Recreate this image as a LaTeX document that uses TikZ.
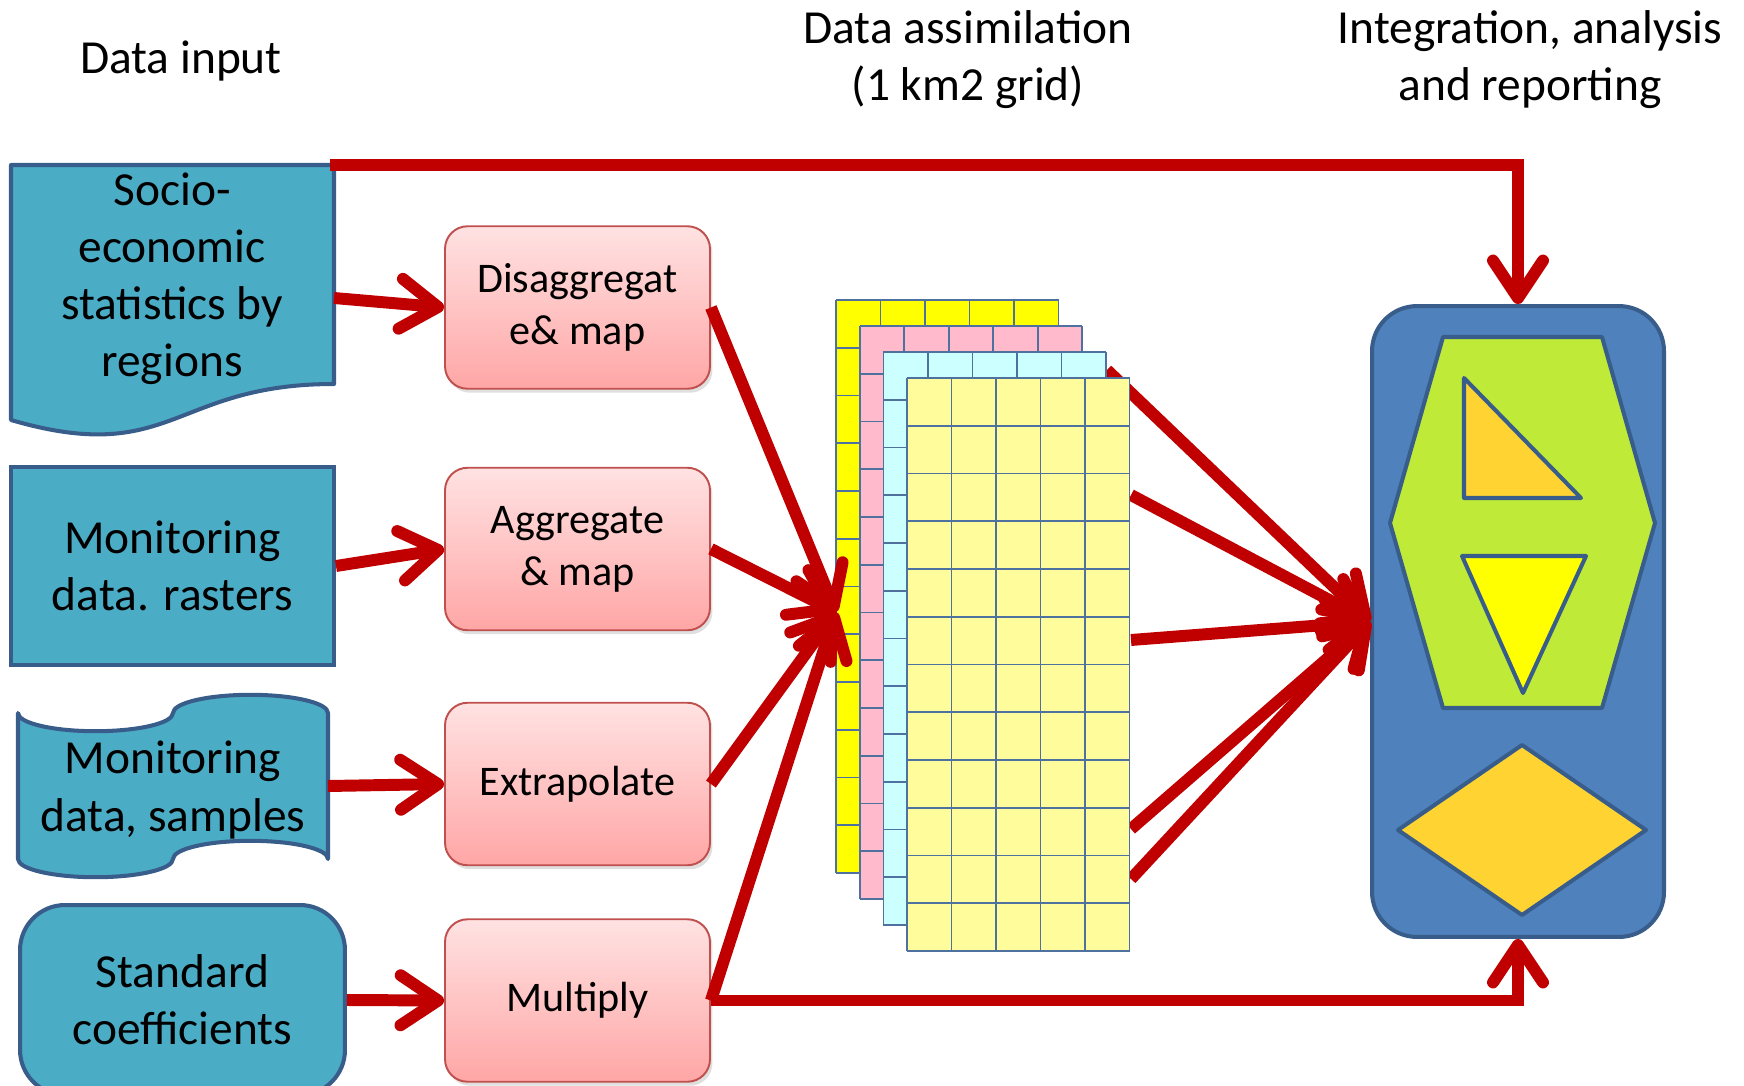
\documentclass[tikz,border=0pt]{standalone}
\usepackage{fontspec}
\setmainfont{Carlito}
\usetikzlibrary{arrows.meta,shadows}

\definecolor{flowred}{RGB}{192,0,0}
\definecolor{inblue}{RGB}{75,172,198}
\definecolor{edgeblue}{RGB}{56,93,138}
\definecolor{pinktop}{RGB}{255,226,226}
\definecolor{pinkbot}{RGB}{255,166,166}
\definecolor{pinkedge}{RGB}{192,80,77}
\definecolor{panelblue}{RGB}{79,129,189}
\definecolor{limegreen}{RGB}{192,234,56}
\definecolor{goldfill}{RGB}{255,212,50}
\definecolor{layerA}{RGB}{255,255,0}
\definecolor{layerB}{RGB}{255,187,204}
\definecolor{layerC}{RGB}{204,255,255}
\definecolor{layerD}{RGB}{255,253,155}
\definecolor{gridline}{RGB}{79,113,160}

\tikzset{
  bigtext/.style={font=\fontsize{27}{32.5}\selectfont, align=center},
  inbox/.style={bigtext, draw=edgeblue, fill=inblue, line width=2.3pt},
  stepbox/.style={draw=pinkedge, line width=1.1pt, top color=pinktop, bottom color=pinkbot,
    rounded corners=0.45cm, minimum width=5.3cm, minimum height=3.25cm,
    font=\fontsize{24}{29.5}\selectfont, align=center,
    drop shadow={shadow xshift=0.05cm, shadow yshift=-0.08cm, opacity=0.25}},
  flow/.style={->, draw=flowred, line width=6.8pt},
  shapeline/.style={draw=edgeblue, line width=2.3pt, line join=round},
}

\begin{document}
\begin{tikzpicture}[x=0.02cm, y=-0.02cm, >={Straight Barb[length=0.75cm,width=1.0cm,round]}]
\useasboundingbox (0,0) rectangle (1744,1085);

% input shapes
\draw[shapeline, fill=inblue] (11,165) -- (334,165) -- (334,384)
    .. controls (172.5,384) and (172.5,467) .. (11,420) -- cycle;
\draw[shapeline, fill=inblue] (18,713)
    arc[start angle=180, end angle=0, x radius=77.5, y radius=18.2]
    arc[start angle=180, end angle=360, x radius=77.5, y radius=18.2] -- (328,859)
    arc[start angle=0, end angle=-180, x radius=77.5, y radius=18.2]
    arc[start angle=0, end angle=180, x radius=77.5, y radius=18.2] -- cycle;

\draw
    node at(181,61)[bigtext,name=tin]{Data input}
    node at(968,60)[bigtext,name=tas]{Data assimilation\\(1 km2 grid)}
    node at(1530,60)[bigtext,name=tir]{Integration, analysis\\and reporting}

    node at(172,279)[bigtext,name=soc]{Socio-\\economic\\statistics by\\regions}
    node at(172.5,566)[inbox,minimum width=6.46cm,minimum height=3.96cm,name=ras]{Monitoring\\data. rasters}
    node at(173,790)[bigtext,name=smp]{Monitoring\\data, samples}
    node at(182.5,1000)[inbox,rounded corners=0.9cm,minimum width=6.5cm,minimum height=3.8cm,name=std]{Standard\\coefficients}

    node at(577.5,307.5)[stepbox,name=dis]{Disaggregat\\e\& map}
    node at(577.5,549)[stepbox,name=agg]{Aggregate\\\& map}
    node at(577.5,784)[stepbox,name=ext]{Extrapolate}
    node at(577.5,1000.5)[stepbox,name=mul]{Multiply}

    node at(1518,621.5)[draw=edgeblue,fill=panelblue,line width=2.3pt,rounded corners=0.9cm,
        minimum width=5.84cm,minimum height=12.62cm,name=pan]{}
;

% shapes on the panel
\draw[shapeline, fill=limegreen] (1443,337) -- (1602,337) -- (1655,523) -- (1602,708)
    -- (1443,708) -- (1390,523) -- cycle;
\draw[shapeline, fill=goldfill] (1464,378) -- (1464,498) -- (1581,498) -- cycle;
\draw[shapeline, fill=layerA] (1462,556) -- (1586,556) -- (1523,693) -- cycle;
\draw[shapeline, fill=goldfill] (1398,830) -- (1522,745) -- (1646,830) -- (1522,915) -- cycle;

\coordinate (socT) at (330,165);
\coordinate (socE) at (334,298);
\coordinate (smpE) at (328,786);
\coordinate (gin) at (836,612);
\coordinate (gA) at (1107,370);
\coordinate (gB) at (1131,495);
\coordinate (gC) at (1131,640);
\coordinate (gD) at (1131,829);
\coordinate (gE) at (1131,879);

% grid to panel
\draw[flow](gA) -- (pan.west);
\draw[flow](gB) -- (pan.west);
\draw[flow](gC) -- (pan.west);
\draw[flow](gD) -- (pan.west);
\draw[flow](gE) -- (pan.west);

% stacked 1 km2 grids
\foreach \k/\col in {0/layerA,1/layerB,2/layerC,3/layerD}{
  \begin{scope}[shift={(836+23.7*\k,300+26*\k)}]
    \fill[\col] (0,0) rectangle (222.5,573);
    \foreach \i in {0,...,5} \draw[gridline,line width=0.9pt] (\i*44.5,0) -- (\i*44.5,573);
    \foreach \j in {0,...,12} \draw[gridline,line width=0.9pt] (0,\j*47.75) -- (222.5,\j*47.75);
  \end{scope}
}

\draw[flow](socT) -| (pan.north);
\draw[flow](socE) -- (dis.west);
\draw[flow](ras.east) -- (agg.west);
\draw[flow](smpE) -- (ext.west);
\draw[flow](std.east) -- (mul.west);

\draw[flow](dis.east) -- (gin);
\draw[flow](agg.east) -- (gin);
\draw[flow](ext.east) -- (gin);
\draw[flow](mul.east) -- (gin);
\draw[flow](mul.east) -| (pan.south);

\end{tikzpicture}
\end{document}
